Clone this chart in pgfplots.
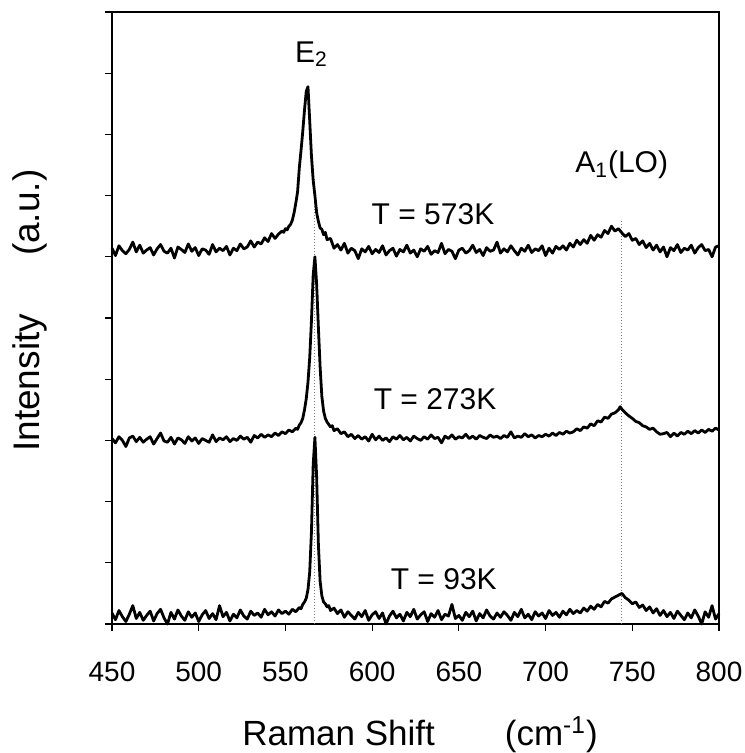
\documentclass[border=0pt]{standalone}
\usepackage{pgfplots}
\pgfplotsset{compat=1.18}
\usepackage{pgfplotstable}
\usepackage{fontspec}
\setmainfont{Liberation Sans}

% Raman spectra, one table per temperature
\pgfplotstableread{
x y
450 6.14
452 6.02
454 6.18
456 6.10
458 6.05
460 6.12
462 6.24
464 6.08
466 6.19
468 6.06
470 6.11
472 6.15
474 6.03
476 6.13
478 6.20
480 6.09
482 6.06
484 6.14
486 5.98
488 6.16
490 6.12
492 6.07
494 6.21
496 6.09
498 6.15
500 6.02
502 6.13
504 6.11
506 6.04
508 6.20
510 6.08
512 6.14
514 6.10
516 6.17
518 6.03
520 6.14
522 6.10
524 6.21
526 6.13
528 6.16
530 6.26
532 6.16
534 6.24
536 6.21
538 6.31
540 6.25
542 6.38
544 6.30
546 6.37
548 6.42
549 6.40
550 6.46
551 6.44
552 6.50
553 6.53
554 6.60
555 6.72
556 6.88
557 7.06
558 7.45
559 7.74
560 8.05
561 8.40
562 8.70
563 8.78
564 8.22
565 7.65
566 7.25
567 7.00
568 6.72
569 6.58
570 6.47
571 6.45
572 6.36
573 6.40
574 6.28
576 6.30
578 6.14
580 6.20
582 6.11
584 6.22
586 6.06
588 6.14
590 6.10
592 5.97
594 6.13
596 6.08
598 6.17
600 6.05
602 6.12
604 6.07
606 6.18
608 6.03
610 6.10
612 6.14
614 6.01
616 6.12
618 6.08
620 6.19
622 6.06
624 6.11
626 6.00
628 6.13
630 6.09
632 6.17
634 6.04
636 6.10
638 6.07
640 6.22
642 6.05
644 6.12
646 6.09
648 5.97
650 6.11
652 6.14
654 6.06
656 6.10
658 6.19
660 6.07
662 6.12
664 6.02
666 6.15
668 6.09
670 6.11
672 6.24
674 6.06
676 6.13
678 6.08
680 6.18
682 6.10
684 6.03
686 6.14
688 6.09
690 6.19
692 6.07
694 6.13
696 6.10
698 6.18
700 6.02
702 6.14
704 6.06
706 6.17
708 6.12
710 6.18
712 6.11
714 6.22
716 6.16
718 6.27
720 6.20
722 6.28
724 6.22
726 6.35
728 6.27
730 6.36
732 6.32
734 6.43
736 6.38
738 6.50
740 6.42
742 6.46
744 6.39
746 6.33
748 6.38
750 6.27
752 6.30
754 6.20
756 6.26
758 6.15
760 6.22
762 6.11
764 6.19
766 6.08
768 6.16
770 6.00
772 6.15
774 6.10
776 6.20
778 6.07
780 6.14
782 6.11
784 6.19
786 6.06
788 6.15
790 6.20
792 6.10
794 6.12
796 6.00
798 6.16
800 6.18
}\thigh

\pgfplotstableread{
x y
450 3.03
452 2.96
454 3.06
456 3.00
458 2.90
460 3.04
462 3.07
464 2.98
466 3.05
468 2.97
470 3.02
472 3.06
474 2.94
476 3.03
478 3.12
480 2.99
482 2.97
484 3.05
486 2.94
488 3.04
490 3.01
492 2.95
494 3.06
496 2.99
498 3.04
500 2.95
502 3.03
504 3.00
506 2.97
508 3.09
510 2.98
512 3.04
514 3.01
516 3.06
518 2.98
520 3.03
522 3.00
524 3.07
526 3.02
528 3.05
530 2.97
532 3.08
534 3.04
536 3.10
538 3.05
540 3.09
542 3.06
544 3.12
546 3.08
548 3.14
550 3.11
552 3.17
554 3.14
556 3.20
557 3.18
558 3.25
559 3.29
560 3.36
561 3.50
562 3.68
563 3.95
564 4.35
565 4.95
566 5.70
567 6.00
568 5.55
569 4.85
570 4.20
571 3.72
572 3.48
573 3.36
574 3.30
575 3.26
576 3.22
577 3.24
578 3.16
580 3.19
582 3.11
584 3.14
586 3.06
588 3.10
590 3.03
592 3.08
594 3.02
596 3.06
598 2.99
600 3.10
602 3.01
604 3.07
606 3.00
608 3.04
610 2.98
612 3.06
614 3.02
616 3.08
618 3.01
620 3.05
622 2.99
624 3.07
626 3.03
628 3.00
630 3.06
632 3.02
634 3.09
636 3.03
638 3.05
640 2.96
642 3.07
644 3.03
646 3.09
648 3.02
650 3.06
652 3.04
654 3.10
656 3.03
658 3.07
660 3.02
662 3.08
664 3.05
666 3.03
668 3.09
670 3.05
672 3.07
674 3.03
676 3.08
678 3.05
680 3.14
682 3.04
684 3.07
686 3.05
688 3.11
690 3.06
692 3.09
694 3.04
696 3.08
698 3.06
700 3.10
702 3.07
704 3.12
706 3.08
708 3.13
710 3.10
712 3.15
714 3.12
716 3.14
718 3.19
720 3.16
722 3.22
724 3.20
726 3.27
728 3.24
730 3.32
732 3.30
734 3.38
736 3.36
738 3.43
740 3.45
742 3.50
743 3.55
744 3.51
746 3.45
748 3.40
750 3.36
752 3.31
754 3.29
756 3.24
758 3.22
760 3.18
762 3.20
764 3.14
766 3.10
768 3.11
770 3.13
772 3.06
774 3.12
776 3.07
778 3.13
780 3.10
782 3.15
784 3.11
786 3.16
788 3.12
790 3.17
792 3.13
794 3.18
796 3.15
798 3.20
800 3.17
}\tmid

\pgfplotstableread{
x y
450 0.18
452 0.07
454 0.22
456 0.12
458 0.04
460 0.16
462 0.30
464 0.09
466 0.19
468 0.06
470 0.14
472 0.21
474 0.05
476 0.17
478 0.24
480 0.10
482 0.00
484 0.19
486 0.08
488 0.23
490 0.13
492 0.06
494 0.20
496 0.11
498 0.18
500 0.04
502 0.15
504 0.22
506 0.09
508 0.17
510 0.07
512 0.30
514 0.12
516 0.19
518 0.05
520 0.16
522 0.10
524 0.23
526 0.13
528 0.08
530 0.21
532 0.14
534 0.18
536 0.11
538 0.24
540 0.15
542 0.20
544 0.13
546 0.23
548 0.17
550 0.21
552 0.16
554 0.24
556 0.20
558 0.27
559 0.25
560 0.32
561 0.36
562 0.42
563 0.56
564 0.85
565 1.50
566 2.60
567 3.05
568 2.40
569 1.30
570 0.70
571 0.46
572 0.36
573 0.33
574 0.28
575 0.30
576 0.22
578 0.26
580 0.17
582 0.23
584 0.11
586 0.20
588 0.14
590 0.08
592 0.19
594 0.12
596 0.22
598 0.06
600 0.15
602 0.20
604 0.09
606 0.18
608 0.00
610 0.13
612 0.21
614 0.10
616 0.16
618 0.05
620 0.19
622 0.12
624 0.24
626 0.08
628 0.15
630 0.20
632 0.04
634 0.17
636 0.11
638 0.22
640 0.07
642 0.16
644 0.13
646 0.32
648 0.09
650 0.14
652 0.06
654 0.19
656 0.12
658 0.21
660 0.05
662 0.17
664 0.10
666 0.23
668 0.13
670 0.08
672 0.18
674 0.11
676 0.20
678 0.14
680 0.06
682 0.19
684 0.12
686 0.24
688 0.10
690 0.16
692 0.07
694 0.20
696 0.13
698 0.18
700 0.09
702 0.22
704 0.14
706 0.19
708 0.11
710 0.21
712 0.15
714 0.24
716 0.17
718 0.22
720 0.18
722 0.26
724 0.21
726 0.29
728 0.24
730 0.32
732 0.28
734 0.37
736 0.34
738 0.41
740 0.44
742 0.47
744 0.50
746 0.43
748 0.39
750 0.33
752 0.36
754 0.27
756 0.31
758 0.22
760 0.28
762 0.18
764 0.25
766 0.14
768 0.22
770 0.12
772 0.19
774 0.09
776 0.21
778 0.14
780 0.07
782 0.18
784 0.10
786 0.23
788 0.13
790 0.00
792 0.20
794 0.11
796 0.30
798 0.08
800 0.17
}\tlow

\begin{document}
\begin{tikzpicture}
\begin{axis}[
    scale only axis,
    width=303.5pt, height=306pt,
    xmin=450, xmax=800,
    ymin=0, ymax=10,
    xtick={450,500,...,800},
    ytick={0,1,...,10},
    yticklabels={},
    tick align=outside,
    xtick pos=bottom, ytick pos=left,
    major tick length=3.5pt,
    axis line style={line width=0.6pt},
    every tick/.style={black, line width=0.6pt},
    /pgf/number format/assume math mode=true,
    /pgf/number format/1000 sep={},
    xticklabel style={font=\fontsize{14}{14}\selectfont, anchor=center, yshift=-20.5pt},
    xlabel={Raman Shift\hspace{35pt}(cm\textsuperscript{-1})},
    xlabel style={at={(axis cs:627.6,-1.81)}, anchor=center,
        font=\fontsize{17.5}{17.5}\selectfont},
    ylabel={Intensity\hspace{29pt}(a.u.)},
    ylabel style={at={(axis cs:402.7,5.12)}, anchor=center,
        font=\fontsize{18.5}{18.5}\selectfont},
    clip=false,
]
    % peak position guides
    \addplot[densely dotted, gray, line width=0.5pt] coordinates {(567,0) (567,7.3)};
    \addplot[densely dotted, gray, line width=0.5pt] coordinates {(744,0) (744,6.6)};

    \addplot[black, line width=1.4pt, line join=round] table {\tlow};
    \addplot[black, line width=1.4pt, line join=round] table {\tmid};
    \addplot[black, line width=1.4pt, line join=round] table {\thigh};

    \node[anchor=base, font=\fontsize{15}{15}\selectfont] at (axis cs:565,9.18) {E\textsubscript{2}};
    \node[anchor=base, font=\fontsize{15}{15}\selectfont] at (axis cs:743.9,7.37) {A\textsubscript{1}(LO)};
    \node[anchor=base, font=\fontsize{15}{15}\selectfont] at (axis cs:635.1,6.52) {T = 573K};
    \node[anchor=base, font=\fontsize{15}{15}\selectfont] at (axis cs:636.3,3.50) {T = 273K};
    \node[anchor=base, font=\fontsize{15}{15}\selectfont] at (axis cs:641.3,0.56) {T = 93K};

    \coordinate (bbll) at (rel axis cs:0,0);
    \coordinate (bbur) at (rel axis cs:1,1);
\end{axis}
\pgfresetboundingbox
\path ([shift={(-56pt,-64.5pt)}]bbll) rectangle ([shift={(12.5pt,6pt)}]bbur);
\end{tikzpicture}
\end{document}
